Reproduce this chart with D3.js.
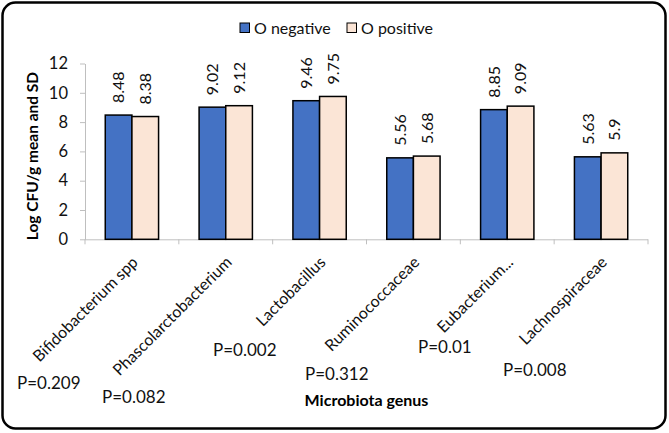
<!DOCTYPE html>
<html><head><meta charset="utf-8">
<script src="https://cdn.jsdelivr.net/npm/d3@7"></script>
<style>
html,body{margin:0;padding:0;background:#fff;}
text{font-family:Lato,"Open Sans",sans-serif;}
</style></head>
<body>
<svg id="chart" width="669" height="433"></svg>
<script>
const categories = ["Bifidobacterium spp","Phascolarctobacterium","Lactobacillus","Ruminococcaceae","Eubacterium...","Lachnospiraceae"];
const seriesNames = ["O negative","O positive"];
const oNegative = [8.48, 9.02, 9.46, 5.56, 8.85, 5.63];
const oPositive = [8.38, 9.12, 9.75, 5.68, 9.09, 5.9];
const valueLabels = [["8.48","8.38"],["9.02","9.12"],["9.46","9.75"],["5.56","5.68"],["8.85","9.09"],["5.63","5.9"]];
const pValues = ["P=0.209","P=0.082","P=0.002","P=0.312","P=0.01","P=0.008"];
const yTicks = [0,2,4,6,8,10,12];
const colors = ["#4472C4","#FBE5D6"];

(function(){
const svg = d3.select("#chart");
const mLeft = 85, mRight = 648, mTop = 63.5, mBottom = 239.3;

svg.append("rect").attr("x",2.5).attr("y",2.5).attr("width",663).attr("height",426)
  .attr("rx",13).attr("fill","#fff").attr("stroke","#000").attr("stroke-width",2.5);

const x0 = d3.scaleBand().domain(categories).range([mLeft,mRight]).padding(0);
const x1 = d3.scaleBand().domain(seriesNames).range([0,x0.bandwidth()]).paddingInner(0).paddingOuter(0.76);
const y = d3.scaleLinear().domain([0,12]).range([mBottom,mTop]);

// y axis
const ya = svg.append("g").attr("transform",`translate(${mLeft},0)`)
  .call(d3.axisLeft(y).tickValues(yTicks).tickSize(5).tickPadding(12).tickSizeOuter(0));
ya.select(".domain").attr("stroke","#bfbfbf");
ya.selectAll(".tick line").attr("stroke","#bfbfbf");
ya.selectAll(".tick text").attr("font-size",16.5).attr("fill","#111").style("font-family","Lato");

// x axis
const xa = svg.append("g").attr("transform",`translate(0,${mBottom})`)
  .call(d3.axisBottom(x0).tickSize(0).tickFormat(""));
xa.select(".domain").attr("stroke","#bfbfbf").attr("d",`M${mLeft},0.5H${mRight}`);
const bounds = d3.range(categories.length+1).map(i => i<categories.length ? x0(categories[i]) : mRight);
xa.selectAll(".bnd").data(bounds).enter().append("line")
  .attr("x1",d=>d).attr("x2",d=>d).attr("y1",0).attr("y2",5).attr("stroke","#bfbfbf");

const data = categories.map((c,i)=>({cat:c, vals:[oNegative[i],oPositive[i]], labels:valueLabels[i]}));

const g = svg.selectAll(".grp").data(data).enter().append("g")
  .attr("transform",d=>`translate(${x0(d.cat)},0)`);
g.selectAll("rect").data(d=>d.vals.map((v,j)=>({v,j,s:seriesNames[j],lab:d.labels[j]}))).enter().append("rect")
  .attr("x",d=>x1(d.s)).attr("width",x1.bandwidth())
  .attr("y",d=>y(d.v)).attr("height",d=>y(0)-y(d.v))
  .attr("fill",d=>colors[d.j]).attr("stroke","#000").attr("stroke-width",1.5);
g.selectAll("text.val").data(d=>d.vals.map((v,j)=>({v,j,s:seriesNames[j],lab:d.labels[j]}))).enter().append("text")
  .attr("class","val")
  .attr("transform",d=>`translate(${x1(d.s)+x1.bandwidth()/2},${y(d.v)-12}) rotate(-90)`)
  .attr("dy","0.36em").attr("font-size",16).attr("fill","#111").text(d=>d.lab);

// category labels
svg.selectAll(".cat").data(categories).enter().append("text")
  .attr("class","cat")
  .attr("transform",d=>`translate(${x0(d)+x0.bandwidth()/2+7},${mBottom+24}) rotate(-45)`)
  .attr("text-anchor","end").attr("font-size",16).attr("fill","#111").text(d=>d);

// p-values
const pPos = [[17,389],[102,403],[213,356],[305,380],[418,353],[503,376]];
svg.selectAll(".pv").data(pValues).enter().append("text")
  .attr("x",(d,i)=>pPos[i][0]).attr("y",(d,i)=>pPos[i][1])
  .attr("font-size",17).attr("fill","#111").text(d=>d);

// axis titles
svg.append("text").attr("x",(mLeft+mRight)/2).attr("y",406).attr("text-anchor","middle")
  .attr("font-size",16).attr("font-weight","bold").attr("fill","#000").text("Microbiota genus");
svg.append("text").attr("transform",`translate(38,156) rotate(-90)`).attr("text-anchor","middle")
  .attr("font-size",15.5).attr("font-weight","bold").attr("fill","#000").text("Log CFU/g mean and SD");

// legend
const leg = svg.append("g");
const legX = [240,347];
seriesNames.forEach((s,i)=>{
  leg.append("rect").attr("x",legX[i]).attr("y",23).attr("width",9.5).attr("height",9.5)
    .attr("fill",colors[i]).attr("stroke","#000").attr("stroke-width",1);
  leg.append("text").attr("x",legX[i]+14).attr("y",33.5).attr("font-size",16).attr("fill","#111").text(s);
});
})();
</script>
</body></html>
